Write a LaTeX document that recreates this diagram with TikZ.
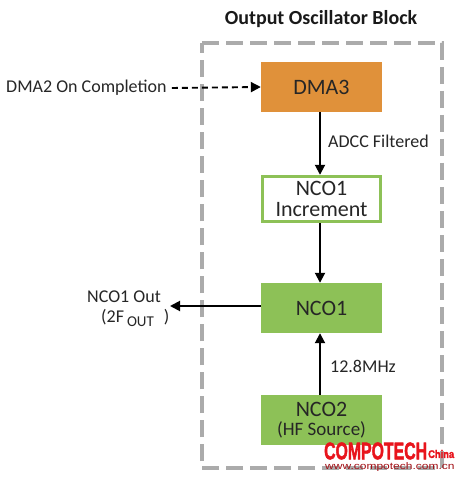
\documentclass[tikz,border=0pt]{standalone}
\usepackage{fontspec}
\setmainfont{Carlito}
\newfontfamily\wmfont{Liberation Sans}
\newfontfamily\wmheavy[FakeBold=2.2]{Liberation Sans Bold}
\usetikzlibrary{arrows.meta}
\definecolor{boxgreen}{HTML}{8DC157}
\definecolor{boxorange}{HTML}{E0913A}
\definecolor{framegray}{HTML}{ABABAB}
\definecolor{wmred}{HTML}{E8141C}
\tikzset{
  x=1pt,y=-1pt,
  block/.style={minimum width=121pt,inner sep=0pt,align=center,font=\fontsize{22}{22}\selectfont,text=black!85},
  label/.style={inner sep=0pt,font=\fontsize{18}{20}\selectfont,text=black!85,align=center},
  flow/.style={draw=black,line width=1.9pt,-{Triangle[length=10pt,width=10pt]}},
}
\begin{document}
\begin{tikzpicture}
\useasboundingbox (0,0) rectangle (463,478);
\fill[white] (0,0) rectangle (463,478);
\draw[framegray,line width=3.6pt,dash pattern=on 17pt off 7pt] (202,43) -- (442,43) -- (442,468) -- (202,468) -- cycle;
\node[inner sep=0pt,font=\fontsize{20}{20}\bfseries\selectfont,text=black!90] (title) at (321,19) {Output Oscillator Block};
\node[block,fill=boxorange,minimum height=50pt] (dma) at (321.5,87) {DMA3};
\node[block,draw=boxgreen,fill=white,line width=3.4pt,minimum width=118pt,minimum height=45pt,font=\fontsize{22}{21}\selectfont] (inc) at (321.5,199) {NCO1\\Increment};
\node[block,fill=boxgreen,minimum height=50pt] (nco1) at (321.5,308) {NCO1};
\node[block,fill=boxgreen,minimum height=50pt,font=\fontsize{22}{20}\selectfont] (nco2) at (321.5,420) {NCO2\\[-1pt]{\fontsize{19}{19}\selectfont (HF Source)}};
\node[label,anchor=west] (src) at (6,88) {DMA2 On Completion};
\node[label,anchor=west] (adcc) at (328,141) {ADCC Filtered};
\node[label,anchor=west] (mhz) at (330,366) {12.8MHz};
\node[label] (out1) at (124,297) {NCO1 Out};
\node[label,anchor=west] (out2) at (101,318) {(2F\,\raisebox{-4pt}{\fontsize{15}{15}\selectfont OUT}\,\, )};
\coordinate (outend) at (170,306);
\draw[flow,dashed,dash pattern=on 6pt off 4pt] (src.east) ++(5,0) -- (dma.west);
\draw[flow] ([xshift=-1.5pt]dma.south) -- ([xshift=-1.5pt]inc.north);
\draw[flow] ([xshift=-1.5pt]inc.south) -- ([xshift=-1.5pt]nco1.north);
\draw[flow] ([xshift=-1.5pt]nco2.north) -- ([xshift=-1.5pt]nco1.south);
\draw[flow] (nco1.west) ++(0,-2) -- (outend);
\node[inner sep=0pt,anchor=west,text=wmred,font=\wmheavy\fontsize{24}{24}\selectfont,xscale=.66] (wm1) at (324,451) {COMPOTECH};
\node[inner sep=0pt,anchor=west,text=wmred,font=\wmheavy\fontsize{11}{11}\selectfont,xscale=.85] (wm2) at (428,454) {China};
\node[inner sep=0pt,anchor=west,text=wmred!70!black,font=\wmfont\fontsize{12}{12}\selectfont,yscale=.8] (wm3) at (325,467.5) {www.compotech.com.cn};
\end{tikzpicture}
\end{document}
